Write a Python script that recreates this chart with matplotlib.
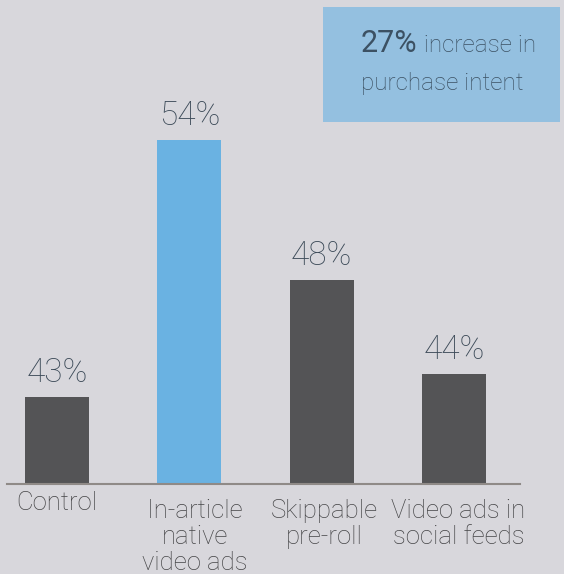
import matplotlib
matplotlib.use("Agg")
import matplotlib.pyplot as plt
from matplotlib.patches import Rectangle
import matplotlib.transforms as mtransforms

categories = ["Control", "In-article\nnative\nvideo ads", "Skippable\npre-roll", "Video ads in\nsocial feeds"]
values = [43, 54, 48, 44]
value_labels = ["43%", "54%", "48%", "44%"]
highlight = "In-article\nnative\nvideo ads"
callout_big = "27%"
callout_rest1 = " increase in"
callout_rest2 = "purchase intent"

BG = "#d8d7dc"
DARK = "#545456"
BLUE = "#6ab2e2"
BOX = "#94c0e0"
LABEL_C = "#3c4a58"
TICK_C = "#454547"
BOX_TXT = "#3c5163"
FONT = "Roboto"
LW = "light"

W, H = 564, 574
fig = plt.figure(figsize=(W / 100, H / 100), dpi=100, facecolor=BG)

ax_left = 6.5 / W
ax_w = (520 - 6.5) / W
ax_bottom = (H - 483.7) / H
ax_h = 483.7 / H
ax = fig.add_axes([ax_left, ax_bottom, ax_w, ax_h])
ax.set_facecolor(BG)

x = list(range(len(categories)))
colors = [BLUE if c == highlight else DARK for c in categories]
ax.bar(x, values, width=0.484, color=colors, bottom=0)
ax.set_xlim(-0.382, 3.50)
ax.set_ylim(39.3, 60.0)

for s in ["top", "right", "left"]:
    ax.spines[s].set_visible(False)
ax.spines["bottom"].set_color("#8f8a87")
ax.spines["bottom"].set_linewidth(1.5)
ax.set_yticks([])
ax.set_xticks([])

for xi, v, lab in zip(x, values, value_labels):
    ax.annotate(lab, (xi, v), xytext=(0, 6), textcoords="offset points",
                ha="center", va="bottom", fontsize=24, color=LABEL_C,
                family=FONT, fontweight=LW)

trans = mtransforms.blended_transform_factory(ax.transData, ax.transAxes)
label_dx = [0.0, 0.04, 0.02, 0.035]
for xi, cat, dx in zip(x, categories, label_dx):
    off = -5 if "\n" not in cat else -11
    ax.annotate(cat, (xi + dx, 0), xycoords=trans, xytext=(0, off),
                textcoords="offset points", ha="center", va="top",
                fontsize=18.5, color=TICK_C, family=FONT, fontweight=LW,
                linespacing=1.1, multialignment="center")

box = Rectangle((323 / W, 1 - 122 / H), (560 - 323) / W, (122 - 7) / H,
                transform=fig.transFigure, facecolor=BOX, edgecolor="none")
fig.patches.append(box)
t1 = fig.text(361 / W, 1 - 52 / H, callout_big, fontsize=22, color=BOX_TXT,
              family=FONT, fontweight="normal", va="baseline", ha="left")
fig.canvas.draw()
bb = t1.get_window_extent()
fig.text(bb.x1 / W, 1 - 52 / H, callout_rest1, fontsize=17.5, color=BOX_TXT,
         family=FONT, fontweight=LW, va="baseline", ha="left")
fig.text(361 / W, 1 - 90 / H, callout_rest2, fontsize=17.5, color=BOX_TXT,
         family=FONT, fontweight=LW, va="baseline", ha="left")

fig.savefig("out.png", dpi=100, facecolor=BG)
